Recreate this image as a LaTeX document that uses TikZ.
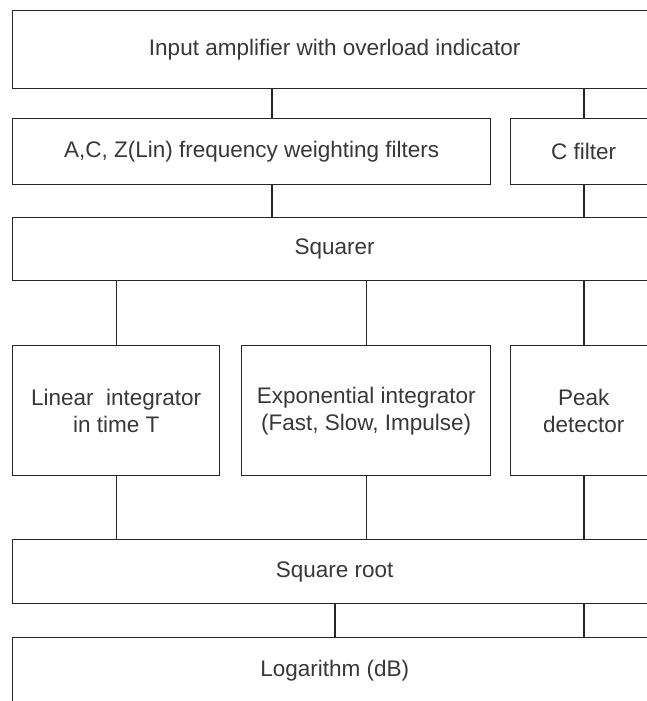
\documentclass[tikz,border=0pt]{standalone}
\usepackage{fontspec}
\setmainfont{Liberation Sans}
\definecolor{linec}{HTML}{262626}
\definecolor{textc}{HTML}{383838}
\begin{document}
\begin{tikzpicture}[x=1pt,y=-1pt,
  box/.style={draw=linec, line width=1.4pt, rectangle, anchor=north west, inner sep=0pt,
    align=center, text=textc, font=\fontsize{22.5}{27}\selectfont},
  conn/.style={draw=linec, line width=1.4pt}]
\useasboundingbox (0,0) rectangle (647,701);
\clip (0,0) rectangle (647,701);
\fill[white] (0,0) rectangle (647,701);
% row 1
\node[box, minimum width=644pt, minimum height=78pt] (in) at (12,10) {Input amplifier with overload indicator};
% row 2
\node[box, minimum width=478pt, minimum height=66pt] (acz) at (12,118) {A,C, Z(Lin) frequency weighting filters};
\node[box, minimum width=146pt, minimum height=66pt] (cf) at (510,118) {C filter};
% row 3
\node[box, minimum width=644pt, minimum height=63pt] (sq) at (12,217) {Squarer};
% row 4
\node[box, minimum width=207pt, minimum height=130pt] (lin) at (12,345) {Linear\ \ integrator\\in time T};
\node[box, minimum width=249pt, minimum height=130pt] (exp) at (241,345) {Exponential integrator\\(Fast, Slow, Impulse)};
\node[box, minimum width=146pt, minimum height=130pt] (pk) at (510,345) {Peak\\detector};
% row 5
\node[box, minimum width=644pt, minimum height=64pt] (sr) at (12,539) {Square root};
% row 6
\node[box, minimum width=644pt, minimum height=66pt] (lg) at (12,637) {Logarithm (dB)};
% connector positions
\coordinate (xa) at (272,0);
\coordinate (xb) at (335,0);
\coordinate (xc) at (584,0);
% connectors
\draw[conn] (in.south -| xa) -- (acz.north -| xa);
\draw[conn] (in.south -| xc) -- (cf.north -| xc);
\draw[conn] (acz.south -| xa) -- (sq.north -| xa);
\draw[conn] (cf.south -| xc) -- (sq.north -| xc);
\draw[conn] (sq.south -| lin.north) -- (lin.north);
\draw[conn] (sq.south -| exp.north) -- (exp.north);
\draw[conn] (sq.south -| xc) -- (pk.north -| xc);
\draw[conn] (lin.south) -- (sr.north -| lin.south);
\draw[conn] (exp.south) -- (sr.north -| exp.south);
\draw[conn] (pk.south -| xc) -- (sr.north -| xc);
\draw[conn] (sr.south -| xb) -- (lg.north -| xb);
\draw[conn] (sr.south -| xc) -- (lg.north -| xc);
\end{tikzpicture}
\end{document}
